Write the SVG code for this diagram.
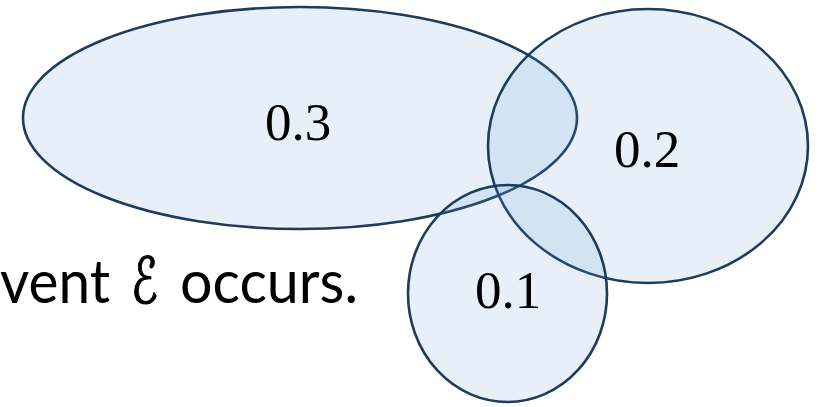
<svg xmlns="http://www.w3.org/2000/svg" width="828" height="407" viewBox="0 0 828 407">
  <style>
    .set { fill: #5B9BD5; fill-opacity: 0.15; stroke: #1F3B5C; stroke-width: 2.6; }
    .prob { font-family: "Liberation Serif", "DejaVu Serif", serif; font-size: 53px; fill: #000; }
    .caption { font-family: Lato, "Open Sans", "Liberation Sans", sans-serif; font-size: 60px; fill: #000; }
    .script { font-family: "DejaVu Sans", sans-serif; font-size: 64px; fill: #000; stroke: #000; stroke-width: 1.2; }
  </style>
  <rect width="828" height="407" fill="#FFFFFF"/>

  <!-- caption, partly off the left edge -->
  <g id="caption">
    <text class="caption" x="0" y="303" textLength="110" lengthAdjust="spacingAndGlyphs">vent</text>
    <text class="script" x="131" y="303" textLength="27" lengthAdjust="spacingAndGlyphs">ℰ</text>
    <text class="caption" x="180" y="303" textLength="178" lengthAdjust="spacingAndGlyphs">occurs.</text>
  </g>

  <g id="set-large">
    <ellipse class="set" cx="300" cy="118" rx="277" ry="111"/>
    <text class="prob" x="298" y="140" text-anchor="middle">0.3</text>
  </g>

  <g id="set-right">
    <ellipse class="set" cx="648" cy="146" rx="160" ry="137"/>
    <text class="prob" x="647" y="167" text-anchor="middle">0.2</text>
  </g>

  <g id="set-bottom">
    <ellipse class="set" cx="507.5" cy="293.5" rx="99.5" ry="108.5"/>
    <text class="prob" x="508" y="308" text-anchor="middle">0.1</text>
  </g>

  <g id="connectors"/>
</svg>
